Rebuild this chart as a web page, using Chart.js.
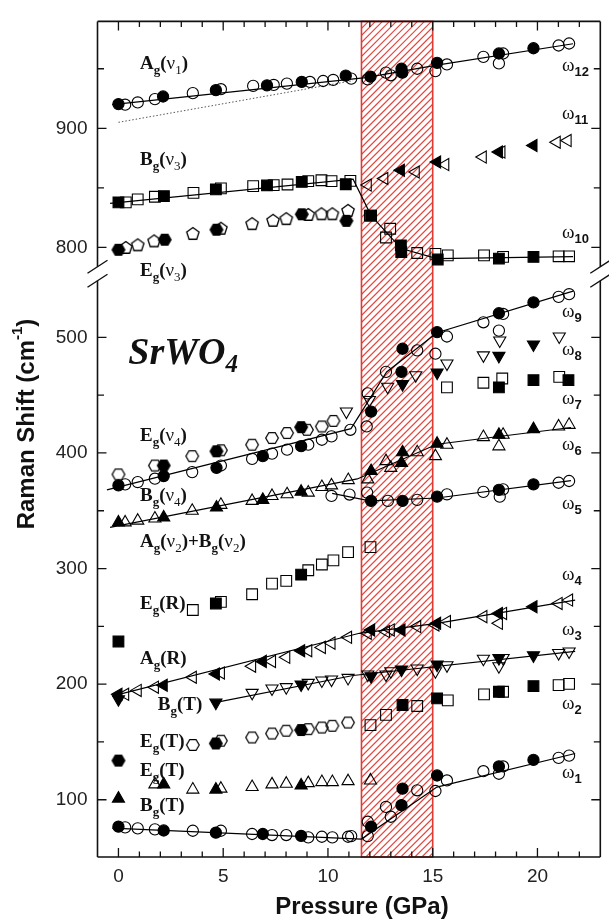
<!DOCTYPE html>
<html>
<head>
<meta charset="utf-8">
<script src="https://cdn.jsdelivr.net/npm/chart.js@4.4.1/dist/chart.umd.min.js"></script>
<style>
html, body { margin: 0; padding: 0; background: #fff; }
#wrap { width: 609px; height: 919px; }
</style>
</head>
<body>
<div id="wrap"><canvas id="myChart" width="609" height="919"></canvas></div>
<script>
// pressure (GPa), Raman shift (cm-1) pairs
// upper panel
var w12Full = [[0,920.3],[2.13,926.7],[4.65,932],[7.09,936],[8.75,938.9],[10.85,944.2],[12.03,943.3],[13.51,950],[13.55,946.7],[15.21,955],[18.16,962.8],[19.81,967.2]];
var w12Open = [[0.32,919.8],[0.92,921.7],[1.74,924.5],[3.55,929.5],[4.89,932.8],[6.43,935.6],[7.41,936.4],[8.04,937.5],[9.14,938.9],[9.77,939.7],[10.25,940.6],[11.11,941.7],[11.9,941],[12.77,946.7],[13.0,944.5],[14.26,950],[15.13,948],[15.68,953.6],[17.42,960],[18.16,954.5],[18.36,962.8],[21.01,969.5],[21.51,971.2]];
var w12Fit = [[-0.3,919.8],[11.8,942.5],[15.2,953],[21.7,971]];
var w12Dotted = [[0,905],[11.2,940]];
var w11Full = [[0,837.8],[2.17,843],[4.65,848.7],[7.09,852],[8.75,855],[10.85,853],[12.06,826.7],[13.48,801.7],[13.5,796],[15.24,789.8],[18.16,790.6],[19.81,792]];
var w11Open = [[0.35,837.8],[0.92,840.3],[1.74,842.5],[3.58,845.8],[4.89,849.5],[6.43,851.4],[7.41,852.3],[8.07,852.8],[9.06,855.6],[9.69,856.4],[10.17,855.6],[11.07,855.8],[12.0,826.7],[12.77,808.3],[12.97,815.6],[14.26,795.3],[15.13,794.5],[15.72,793.3],[17.45,793.3],[18.36,792],[21.01,792.5],[21.51,792.5]];
var w11Fit = [[-0.4,837],[11.2,857.3],[12.06,826.7],[13.5,799],[15.2,790.5],[21.7,792.3]];
var w11TriFull = [[13.48,864.7],[15.21,871.7],[18.16,880],[19.81,885.6]];
var w11TriOpen = [[11.9,852.3],[12.69,857.8],[14.19,863.3],[15.6,869.5],[17.39,875.8],[18.28,880],[20.92,888.3],[21.44,889.7]];
var w10Full = [[0,798],[2.21,806.4],[4.68,814.8],[8.75,827.8],[10.88,822.3]];
var w10Open = [[0.35,799.5],[0.92,801.7],[1.7,805],[3.55,811.2],[4.89,815.6],[6.38,819.5],[7.38,822.3],[8.01,823.7],[9.06,827.2],[9.69,827.8],[10.21,827.8],[10.96,830.6]];
// lower panel
var egv4Full = [[2.16,389.1],[4.68,401.4],[8.72,422.3]];
var egv4Open = [[0,381.4],[1.74,389.1],[3.52,397.2],[4.89,402.3],[6.38,407.1],[7.33,412.9],[8.05,417.2],[9.0,420],[9.71,422.9],[10.26,427.7]];
var w9Full = [[0,371.9],[2.16,380],[4.68,387.1],[6.89,397.2],[8.72,405.8],[12.06,435.8],[13.51,470.1],[13.56,490.1],[15.21,504.5],[18.16,520.8],[19.81,530.2]];
var w9Open = [[0.32,372.8],[0.92,374.8],[1.74,377.7],[3.52,383.4],[4.89,389.1],[6.38,394.8],[7.33,399.4],[8.05,402.8],[9.06,407.1],[9.71,411.4],[10.17,414.3],[11.07,420],[11.85,422.9],[11.9,451.5],[12.77,470.1],[14.26,488.7],[15.13,485.8],[15.68,500.7],[17.42,513],[18.16,505.8],[18.36,520.2],[21.01,535],[21.51,537.3]];
var w9Fit = [[-0.55,368],[11.1,421],[12.8,470],[15.2,504],[21.7,540]];
var w8Full = [[13.56,459.5],[15.21,469.5],[18.16,483.9],[19.81,493.8]];
var w8Open = [[10.88,435.8],[11.98,445.8],[12.85,457.3],[14.19,467.2],[15.68,477.3],[17.42,484.4],[18.2,497.3],[21.04,500.7]];
var w7Full = [[18.16,456.7],[19.81,462.9],[21.48,462.9]];
var w7Open = [[15.68,456.7],[17.42,460.7],[18.32,464.4],[21.04,465.8]];
var w6Full = [[0,339.9],[2.16,344.2],[4.68,352.8],[6.89,359.4],[8.72,366.5],[12.06,384.3],[13.51,391.4],[13.56,400.6],[15.21,408],[18.16,415.7],[19.81,420.6]];
var w6Open = [[0.32,339.9],[0.92,341.4],[1.74,343.3],[3.52,350],[4.89,355.1],[6.38,358.5],[7.33,362.8],[8.05,364.2],[9.06,365.7],[9.71,370.5],[10.17,371.9],[10.97,376.5],[11.9,377.1],[12.77,392.9],[13.0,387.1],[14.26,400.6],[15.13,397.2],[15.68,407.1],[17.42,413.7],[18.16,405.7],[18.36,415.7],[21.01,422.9],[21.51,424.3]];
var w6Fit = [[-0.4,335.6],[11.4,377.5],[15.2,407.5],[21.6,422]];
var w5Full = [[12.06,358.5],[13.56,358.5],[15.21,362.2],[18.16,368],[19.81,372.8]];
var w5Open = [[10.17,362.8],[11.03,364],[11.87,365.7],[12.86,358.5],[14.26,359.4],[15.68,364.2],[17.42,366.3],[18.2,362.2],[18.36,368.5],[21.01,374.2],[21.51,375.7]];
var w5Fit = [[10.2,365],[12.0,358.5],[15.2,361],[21.6,376]];
var egrFull = [[0,236.9],[4.65,269.8],[8.72,294.7]];
var egrOpen = [[3.55,264.1],[4.89,271.2],[6.38,277.8],[7.33,287],[8.01,289.3],[9.06,298.5],[9.71,303.5],[10.26,307],[10.96,314.2],[12.03,318.5]];
var w4Full = [[0,191.2],[2.16,199.1],[4.65,208.8],[6.89,219.7],[8.72,228.9],[12.06,246.9],[13.51,246.9],[15.21,252.6],[18.16,261.2],[19.81,267]];
var w4Open = [[0.32,191.2],[0.92,194.6],[1.74,197.4],[3.55,206],[4.89,209.7],[6.38,215.5],[7.33,219.7],[8.01,223.2],[9.06,228.9],[9.71,231.8],[10.17,235.5],[10.96,240.5],[11.9,244],[12.77,245.5],[13.0,246.9],[14.26,249.8],[15.13,251.2],[15.68,254.1],[17.42,258.4],[18.16,252.6],[18.36,261.2],[21.01,269.8],[21.51,272.7]];
var w4Fit = [[-0.3,189.7],[11.5,244],[15.2,252.6],[21.8,272.7]];
var w3Full = [[0,187],[4.65,184],[8.72,199.7],[12.06,206.9],[13.51,212.6],[15.21,216.9],[18.16,222.6],[19.81,224.9]];
var w3Open = [[6.38,192.5],[7.33,196.3],[8.01,197.4],[9.06,201.1],[9.71,203.2],[10.17,204],[10.96,205.4],[11.9,208.3],[12.77,208.3],[13.0,211.2],[14.26,213.5],[15.13,211.2],[15.68,216.3],[17.42,222],[18.16,215.5],[18.36,222.6],[21.01,226.9],[21.51,228.3]];
var w3Fit = [[4.6,184],[11.2,207.5],[21.8,228.3]];
var w2HexFull = [[0,133.9],[4.65,148.7],[8.72,160.3]];
var w2HexOpen = [[3.55,147.4],[4.89,151.1],[6.38,153.9],[7.33,157.3],[8.01,159.7],[9.06,161.1],[9.71,162.5],[10.21,164],[10.96,166.8]];
var w2SqFull = [[13.56,182],[15.21,187.7],[18.16,193.4],[19.81,198.3]];
var w2SqOpen = [[12.03,164.6],[12.77,173.4],[14.26,181.1],[15.72,186],[17.45,191.2],[18.36,193.4],[21.01,199.1],[21.51,200.3]];
var egtFull = [[0,101],[2.16,113.3],[4.65,108.8],[8.72,112.4]];
var egtOpen = [[1.74,113.3],[3.55,108.8],[4.89,109.6],[6.38,111],[7.33,113.3],[8.01,113.9],[9.06,114.4],[9.71,115.3],[10.21,115.3],[10.96,116.1],[12.03,116.7]];
var w1Full = [[0,76.7],[2.16,73.4],[4.65,71.5],[6.89,70.4],[8.72,68.7],[12.06,76.7],[13.51,95.3],[13.56,109.6],[15.21,121],[18.16,128.8],[19.81,134.5]];
var w1Open = [[0.32,76.1],[0.92,75.3],[1.74,74.4],[3.55,73.2],[4.89,73.2],[6.38,70.4],[7.33,69.5],[8.01,69.5],[9.06,67.5],[9.71,68],[10.21,67.5],[10.96,68],[11.11,68.6],[11.9,81],[11.9,68.6],[12.77,93.8],[13.0,85.3],[14.26,108.2],[15.13,107.6],[15.68,116.7],[17.42,124.7],[18.16,122.5],[18.36,128.8],[21.01,136.2],[21.51,138.2]];
var w1Fit = [[-0.3,75.5],[11.6,66],[15.2,111],[21.8,140]];

var transition = [11.6, 15.0];
var xTicks = [0, 5, 10, 15, 20];
var upperTicks = [800, 900];
var upperMinor = [850, 950];
var lowerTicks = [100, 200, 300, 400, 500];
var lowerMinor = [150, 250, 350, 450];

// mode labels: [parts], pressure, shift, axis
var modeLabels = [
  [[['A','b'],['g','sb'],['(','b'],['\u03bd','n'],['1','sn'],[')','b']], 1.03, 954, 'yu'],
  [[['B','b'],['g','sb'],['(','b'],['\u03bd','n'],['3','sn'],[')','b']], 1.03, 873, 'yu'],
  [[['E','b'],['g','sb'],['(','b'],['\u03bd','n'],['3','sn'],[')','b']], 1.03, 780, 'yu'],
  [[['E','b'],['g','sb'],['(','b'],['\u03bd','n'],['4','sn'],[')','b']], 1.03, 414.6, 'yl'],
  [[['B','b'],['g','sb'],['(','b'],['\u03bd','n'],['4','sn'],[')','b']], 1.03, 363.1, 'yl'],
  [[['A','b'],['g','sb'],['(','b'],['\u03bd','n'],['2','sn'],[')+B','b'],['g','sb'],['(','b'],['\u03bd','n'],['2','sn'],[')','b']], 1.03, 322.7, 'yl'],
  [[['E','b'],['g','sb'],['(R)','b']], 1.03, 269.5, 'yl'],
  [[['A','b'],['g','sb'],['(R)','b']], 1.03, 221.5, 'yl'],
  [[['B','b'],['g','sb'],['(T)','b']], 1.88, 182, 'yl'],
  [[['E','b'],['g','sb'],['(T)','b']], 1.03, 150.2, 'yl'],
  [[['E','b'],['g','sb'],['(T)','b']], 1.03, 125.3, 'yl'],
  [[['B','b'],['g','sb'],['(T)','b']], 1.03, 94.4, 'yl']
];
var omegaLabels = [
  ['12', 950.8, 'yu'], ['11', 910.6, 'yu'], ['10', 810.6, 'yu'],
  ['9', 520.2, 'yl'], ['8', 487.3, 'yl'], ['7', 445.2, 'yl'], ['6', 405.2, 'yl'],
  ['5', 354.2, 'yl'], ['4', 292.7, 'yl'], ['3', 245.5, 'yl'], ['2', 181.1, 'yl'], ['1', 121, 'yl']
];
var omegaX = 21.17;

function polyMarker(sides, r, startDeg, filled) {
    var c = document.createElement('canvas');
    var s = Math.ceil(r * 2 + 4);
    if (s % 2) s++;
    c.width = s;
    c.height = s;
    var g = c.getContext('2d');
    g.beginPath();
    for (var i = 0; i < sides; i++) {
        var a = (startDeg + i * 360 / sides) * Math.PI / 180;
        var px = s / 2 + r * Math.cos(a);
        var py = s / 2 + r * Math.sin(a);
        if (i == 0) g.moveTo(px, py); else g.lineTo(px, py);
    }
    g.closePath();
    if (filled) {
        g.fillStyle = '#000';
        g.fill();
    }
    g.lineWidth = 1.3;
    g.strokeStyle = '#000';
    g.stroke();
    return c;
}
var hexFull = polyMarker(6, 6.3, 0, true);
var hexOpen = polyMarker(6, 6.3, 0, false);
var pentOpen = polyMarker(5, 6.5, -90, false);

function toXY(arr) {
    return arr.map(function (p) { return {x: p[0], y: p[1]}; });
}
function pts(arr, axis, style, filled, r, rot) {
    return {
        data: toXY(arr),
        yAxisID: axis,
        showLine: false,
        pointStyle: style,
        pointRadius: r,
        pointRotation: rot || 0,
        pointBackgroundColor: filled ? '#000' : 'rgba(0,0,0,0)',
        pointBorderColor: '#000',
        pointBorderWidth: 1.1,
        clip: false
    };
}
function fit(arr, axis, dash) {
    return {
        data: toXY(arr),
        yAxisID: axis,
        showLine: true,
        borderColor: dash ? '#555' : '#000',
        borderWidth: dash ? 1 : 1.2,
        borderDash: dash ? [1.5, 2] : [],
        pointRadius: 0,
        tension: 0
    };
}

var CIRC = 5.6, SQ = 7.6, TRI = 7;
var datasets = [
    pts(w12Full, 'yu', 'circle', true, CIRC),
    pts(w12Open, 'yu', 'circle', false, CIRC),
    pts(w11Full, 'yu', 'rect', true, SQ),
    pts(w11Open, 'yu', 'rect', false, SQ),
    pts(w11TriFull, 'yu', 'triangle', true, TRI, -90),
    pts(w11TriOpen, 'yu', 'triangle', false, TRI, -90),
    pts(w10Full, 'yu', hexFull, true, 6),
    pts(w10Open, 'yu', pentOpen, false, 6),
    pts(egv4Full, 'yl', hexFull, true, 6),
    pts(egv4Open, 'yl', hexOpen, false, 6),
    pts(w9Full, 'yl', 'circle', true, CIRC),
    pts(w9Open, 'yl', 'circle', false, CIRC),
    pts(w8Full, 'yl', 'triangle', true, TRI, 180),
    pts(w8Open, 'yl', 'triangle', false, TRI, 180),
    pts(w7Full, 'yl', 'rect', true, SQ),
    pts(w7Open, 'yl', 'rect', false, SQ),
    pts(w6Full, 'yl', 'triangle', true, TRI),
    pts(w6Open, 'yl', 'triangle', false, TRI),
    pts(w5Full, 'yl', 'circle', true, CIRC),
    pts(w5Open, 'yl', 'circle', false, CIRC),
    pts(egrFull, 'yl', 'rect', true, SQ),
    pts(egrOpen, 'yl', 'rect', false, SQ),
    pts(w4Full, 'yl', 'triangle', true, TRI, -90),
    pts(w4Open, 'yl', 'triangle', false, TRI, -90),
    pts(w3Full, 'yl', 'triangle', true, TRI, 180),
    pts(w3Open, 'yl', 'triangle', false, TRI, 180),
    pts(w2HexFull, 'yl', hexFull, true, 6),
    pts(w2HexOpen, 'yl', hexOpen, false, 6),
    pts(w2SqFull, 'yl', 'rect', true, SQ),
    pts(w2SqOpen, 'yl', 'rect', false, SQ),
    pts(egtFull, 'yl', 'triangle', true, TRI),
    pts(egtOpen, 'yl', 'triangle', false, TRI),
    pts(w1Full, 'yl', 'circle', true, CIRC),
    pts(w1Open, 'yl', 'circle', false, CIRC),
    fit(w12Fit, 'yu'),
    fit(w12Dotted, 'yu', true),
    fit(w11Fit, 'yu'),
    fit(w9Fit, 'yl'),
    fit(w6Fit, 'yl'),
    fit(w5Fit, 'yl'),
    fit(w4Fit, 'yl'),
    fit(w3Fit, 'yl'),
    fit(w1Fit, 'yl')
];

function drawRich(ctx, parts, x, y, fonts) {
    var cx = x;
    parts.forEach(function (p) {
        var f = fonts[p[1]];
        ctx.font = f[0];
        ctx.fillText(p[0], cx, y + f[1]);
        cx += ctx.measureText(p[0]).width;
    });
    return cx - x;
}

var labelFonts = {
    b: ['bold 19px "Liberation Serif"', 0],
    n: ['19px "Liberation Serif"', 0],
    sb: ['bold 13px "Liberation Serif"', 5],
    sn: ['13px "Liberation Serif"', 5]
};
var omegaFonts = {
    w: ['19px "Liberation Serif"', 0],
    s: ['bold 13px "Liberation Sans"', 5]
};

var decor = {
    id: 'decor',
    beforeDatasetsDraw: function (chart) {
        var ctx = chart.ctx, a = chart.chartArea, x = chart.scales.x;
        var x0 = x.getPixelForValue(transition[0]);
        var x1 = x.getPixelForValue(transition[1]);
        var h = a.bottom - a.top;
        ctx.save();
        ctx.beginPath();
        ctx.rect(x0, a.top, x1 - x0, h);
        ctx.clip();
        ctx.strokeStyle = '#e8433d';
        ctx.lineWidth = 1.1;
        ctx.beginPath();
        for (var k = -h; k < x1 - x0; k += 7) {
            ctx.moveTo(x0 + k, a.bottom);
            ctx.lineTo(x0 + k + h, a.top);
        }
        ctx.stroke();
        ctx.restore();
        ctx.save();
        ctx.strokeStyle = '#e03a33';
        ctx.lineWidth = 1.6;
        ctx.strokeRect(x0, a.top, x1 - x0, h);
        ctx.restore();
    },
    afterDatasetsDraw: function (chart) {
        var ctx = chart.ctx, a = chart.chartArea;
        var x = chart.scales.x, yu = chart.scales.yu, yl = chart.scales.yl;
        var yb = yu.bottom;
        ctx.save();
        ctx.strokeStyle = '#111';
        ctx.lineWidth = 1.6;
        ctx.beginPath();
        ctx.moveTo(a.left, a.top); ctx.lineTo(a.right, a.top);
        ctx.moveTo(a.left, a.bottom); ctx.lineTo(a.right, a.bottom);
        [a.left, a.right].forEach(function (ax) {
            ctx.moveTo(ax, a.top); ctx.lineTo(ax, yb - 8);
            ctx.moveTo(ax, yb + 6); ctx.lineTo(ax, a.bottom);
        });
        ctx.stroke();

        // inward ticks
        ctx.lineWidth = 1.3;
        ctx.beginPath();
        for (var v = 0; v <= 22; v++) {
            var px = x.getPixelForValue(v);
            var len = v % 5 == 0 ? 9 : 5.5;
            ctx.moveTo(px, a.bottom); ctx.lineTo(px, a.bottom - len);
            ctx.moveTo(px, a.top); ctx.lineTo(px, a.top + len);
        }
        function yTicks(scale, vals, len) {
            vals.forEach(function (val) {
                var py = scale.getPixelForValue(val);
                ctx.moveTo(a.left, py); ctx.lineTo(a.left + len, py);
                ctx.moveTo(a.right, py); ctx.lineTo(a.right - len, py);
            });
        }
        yTicks(yu, upperTicks, 9);
        yTicks(yu, upperMinor, 6.5);
        yTicks(yl, lowerTicks, 9);
        yTicks(yl, lowerMinor, 6.5);
        ctx.stroke();

        // axis break marks
        ctx.lineWidth = 1.4;
        ctx.beginPath();
        [a.left, a.right].forEach(function (ax) {
            [-8, 6].forEach(function (o) {
                ctx.moveTo(ax - 10, yb + o + 6.5);
                ctx.lineTo(ax + 10, yb + o - 6.5);
            });
        });
        ctx.stroke();
        ctx.restore();

        // mode labels
        ctx.save();
        ctx.fillStyle = '#111';
        ctx.textBaseline = 'alphabetic';
        ctx.textAlign = 'left';
        modeLabels.forEach(function (l) {
            var sc = chart.scales[l[3]];
            drawRich(ctx, l[0], x.getPixelForValue(l[1]), sc.getPixelForValue(l[2]) + 5, labelFonts);
        });
        omegaLabels.forEach(function (l) {
            var sc = chart.scales[l[2]];
            drawRich(ctx, [['\u03c9', 'w'], [l[0], 's']], x.getPixelForValue(omegaX), sc.getPixelForValue(l[1]) + 3, omegaFonts);
        });
        drawRich(ctx, [['SrWO', 'm'], ['4', 's']], x.getPixelForValue(0.47), yl.getPixelForValue(488.4) + 13, {
            m: ['bold italic 38px "Liberation Serif"', 0],
            s: ['bold italic 25px "Liberation Serif"', 8]
        });

        // axis titles
        ctx.font = 'bold 24px "Liberation Sans"';
        ctx.textAlign = 'center';
        ctx.textBaseline = 'middle';
        ctx.fillText('Pressure (GPa)', 362, 907);
        ctx.translate(27, 424);
        ctx.rotate(-Math.PI / 2);
        var tf = {t: ['bold 24px "Liberation Sans"', 0], p: ['bold 15px "Liberation Sans"', -9]};
        ctx.textAlign = 'left';
        var tparts = [['Raman Shift (cm', 't'], ['-1', 'p'], [')', 't']];
        var tw = 0;
        tparts.forEach(function (p) { ctx.font = tf[p[1]][0]; tw += ctx.measureText(p[0]).width; });
        drawRich(ctx, tparts, -tw / 2, 0, tf);
        ctx.restore();
    }
};

var tickFont = {family: '"Liberation Sans", Arial, sans-serif', size: 19};
function yScale(min, max, weight, ticks) {
    return {
        type: 'linear',
        position: 'left',
        stack: 'shift',
        stackWeight: weight,
        min: min,
        max: max,
        grid: {display: false, drawTicks: false},
        border: {display: false},
        ticks: {font: tickFont, color: '#222', padding: 10},
        afterBuildTicks: function (s) { s.ticks = ticks.map(function (v) { return {value: v}; }); },
        afterFit: function (s) { s.width = 97.5; }
    };
}

var ctx = document.getElementById('myChart').getContext('2d');
var myChart = new Chart(ctx, {
    type: 'scatter',
    data: {datasets: datasets},
    options: {
        responsive: false,
        animation: false,
        devicePixelRatio: 1,
        layout: {padding: {top: 15, right: 6, left: 0, bottom: 0}},
        plugins: {legend: {display: false}, tooltip: {enabled: false}},
        scales: {
            x: {
                type: 'linear',
                min: -1,
                max: 23,
                grid: {display: false, drawTicks: false},
                border: {display: false},
                ticks: {font: tickFont, color: '#222', padding: 8, autoSkip: false, maxRotation: 0},
                afterBuildTicks: function (s) { s.ticks = xTicks.map(function (v) { return {value: v}; }); },
                afterFit: function (s) { s.height = 62; }
            },
            // stacked left axes are laid out bottom first
            yl: yScale(50.5, 554.1, 586.7, lowerTicks),
            yu: yScale(777, 989.75, 255.3, upperTicks)
        }
    },
    plugins: [decor]
});
</script>
</body>
</html>
